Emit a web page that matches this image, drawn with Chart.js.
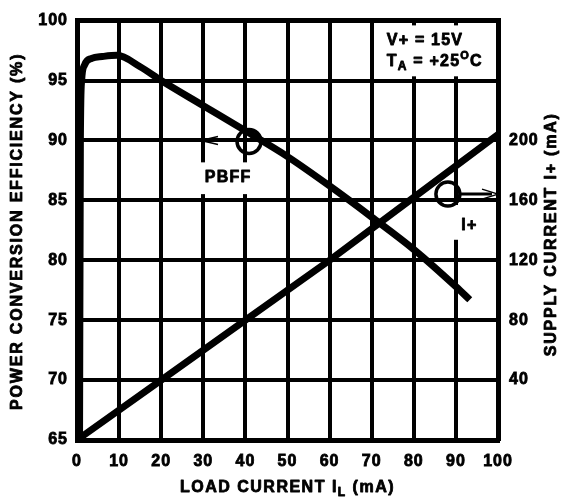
<!DOCTYPE html>
<html><head><meta charset="utf-8">
<script src="https://cdn.jsdelivr.net/npm/chart.js@4/dist/chart.umd.min.js"></script>
<style>html,body{margin:0;padding:0;background:#fff;}</style>
</head><body>
<canvas id="c" width="561" height="498"></canvas>
<script>
// ---- data ----
const loadCurrentEff = [0.6, 0.8, 1.1, 1.8, 3.5, 6, 9.5, 15, 20, 30, 40, 50, 60, 70, 80, 90, 93.3];
const efficiency     = [65, 90, 95, 96.3, 96.85, 97.0, 97.1, 96.15, 95.0, 92.9, 90.8, 88.65, 86.2, 83.6, 80.9, 77.8, 76.7];
const loadCurrentSup = [0, 20, 40, 60, 80, 100];
const supplyCurrent  = [0, 40, 80, 120, 162, 204];
const xTickValues    = [0, 10, 20, 30, 40, 50, 60, 70, 80, 90, 100];
const effTickValues  = [65, 70, 75, 80, 85, 90, 95, 100];
const supplyTickVals = [40, 80, 120, 160, 200];

const FAM = "Arial, 'Liberation Sans', Helvetica, sans-serif";
Chart.defaults.font.family = FAM;
Chart.defaults.color = '#000';

function runs(ctx, parts, x, y, align) {
  let total = 0;
  parts.forEach(p => { ctx.font = '700 ' + p[1] + 'px ' + FAM; p.w = ctx.measureText(p[0]).width; total += p.w; });
  let cx = align === 'center' ? x - total / 2 : x;
  ctx.textAlign = 'left'; ctx.textBaseline = 'alphabetic';
  ctx.strokeStyle = '#000'; ctx.lineWidth = 0.8; ctx.lineJoin = 'round';
  parts.forEach(p => {
    ctx.font = '700 ' + p[1] + 'px ' + FAM;
    ctx.fillText(p[0], cx, y + p[2]);
    ctx.strokeText(p[0], cx, y + p[2]);
    cx += p.w;
  });
}

const deco = {
  id: 'deco',
  beforeDraw(chart) { chart.ctx.letterSpacing = '1px'; },
  beforeDatasetsDraw(chart) {
    const {ctx, scales: {x, y}} = chart;
    ctx.save();
    ctx.fillStyle = '#fff';
    const box = (x0, x1, y0, y1) => {
      const a = x.getPixelForValue(x0), b = x.getPixelForValue(x1);
      const c = y.getPixelForValue(y0), d = y.getPixelForValue(y1);
      ctx.fillRect(a, c, b - a, d - c);
    };
    box(72.0, 98.9, 99.6, 95.35);
    box(29.2, 42.3, 88.17, 85.52);
    box(89.1, 96.9, 84.61, 81.71);
    ctx.restore();
  },
  afterDatasetsDraw(chart) {
    const {ctx, scales: {x, y}} = chart;
    ctx.save();
    ctx.strokeStyle = '#000'; ctx.fillStyle = '#000';
    ctx.letterSpacing = '1.2px';
    // PBFF marker
    let cx = x.getPixelForValue(40.86), cy = y.getPixelForValue(89.91);
    ctx.lineWidth = 3.5;
    ctx.beginPath(); ctx.arc(cx, cy, 12, 0, Math.PI * 2); ctx.stroke();
    let tip = x.getPixelForValue(29.45), ay = y.getPixelForValue(90);
    ctx.lineWidth = 1.5;
    ctx.beginPath(); ctx.moveTo(cx - 12, ay); ctx.lineTo(tip, ay); ctx.stroke();
    ctx.beginPath(); ctx.moveTo(tip + 17, ay - 4); ctx.lineTo(tip, ay); ctx.lineTo(tip + 17, ay + 4); ctx.stroke();
    runs(ctx, [['PBFF', 16, 0]], x.getPixelForValue(35.9), y.getPixelForValue(86.51), 'center');
    // I+ marker
    cx = x.getPixelForValue(88.1); cy = y.getPixelForValue(85.52);
    ctx.strokeStyle = '#000';
    ctx.lineWidth = 3.5;
    ctx.beginPath(); ctx.arc(cx, cy, 12, 0, Math.PI * 2); ctx.stroke();
    tip = x.getPixelForValue(100);
    ctx.lineWidth = 3;
    ctx.beginPath(); ctx.moveTo(cx + 12, cy); ctx.lineTo(tip - 6, cy); ctx.stroke();
    ctx.lineWidth = 1.5;
    ctx.beginPath(); ctx.moveTo(tip - 16, cy - 5); ctx.lineTo(tip, cy); ctx.lineTo(tip - 16, cy + 5); ctx.stroke();
    runs(ctx, [['I+', 16, 0]], x.getPixelForValue(93.2), y.getPixelForValue(82.54), 'center');
    // conditions
    const lx = x.getPixelForValue(73.6);
    runs(ctx, [['V+ = 15V', 16, 0]], lx, y.getPixelForValue(97.93), 'left');
    runs(ctx, [['T', 16, 0], ['A', 12, 4], [' = +25', 16, 0], ['O', 11, -7], ['C', 16, 0]], lx, y.getPixelForValue(96.19), 'left');
    ctx.restore();
  },
  afterDraw(chart) {
    const {ctx, chartArea: ca} = chart;
    ctx.save();
    ctx.fillStyle = '#000';
    ctx.letterSpacing = '1.5px';
    runs(ctx, [['LOAD CURRENT I', 16, 0], ['L', 12, 4], [' (mA)', 16, 0]], (ca.left + ca.right) / 2, 492, 'center');
    ctx.letterSpacing = '1.8px';
    ctx.save(); ctx.translate(22, (ca.top + ca.bottom) / 2 + 1); ctx.rotate(-Math.PI / 2);
    runs(ctx, [['POWER CONVERSION EFFICIENCY (%)', 16, 0]], 0, 0, 'center'); ctx.restore();
    ctx.save(); ctx.translate(556, (ca.top + ca.bottom) / 2 + 4); ctx.rotate(-Math.PI / 2);
    runs(ctx, [['SUPPLY CURRENT I+ (mA)', 16, 0]], 0, 0, 'center'); ctx.restore();
    ctx.restore();
  }
};

const tickFont = { size: 16, weight: 700 };
const gridCommon = { color: '#000', drawTicks: false };
new Chart(document.getElementById('c'), {
  type: 'line',
  data: {
    datasets: [
      { label: 'PBFF', data: loadCurrentEff.map((v, i) => ({x: v, y: efficiency[i]})), yAxisID: 'y',
        borderColor: '#000', borderWidth: 7, pointRadius: 0, cubicInterpolationMode: 'monotone', clip: false, borderCapStyle: 'butt' },
      { label: 'I+', data: loadCurrentSup.map((v, i) => ({x: v, y: supplyCurrent[i]})), yAxisID: 'y2',
        borderColor: '#000', borderWidth: 7, pointRadius: 0, tension: 0, clip: false }
    ]
  },
  options: {
    responsive: false, animation: false, devicePixelRatio: 1,
    layout: { padding: { top: 17, left: 0, right: 0, bottom: 0 } },
    plugins: { legend: { display: false }, tooltip: { enabled: false } },
    scales: {
      x: { type: 'linear', min: 0, max: 100,
        afterBuildTicks: s => { s.ticks = xTickValues.map(v => ({value: v})); },
        ticks: { font: tickFont, color: '#000', padding: 12, maxRotation: 0, textStrokeColor: '#000', textStrokeWidth: 0.8 },
        grid: { ...gridCommon, lineWidth: 4 }, border: { display: true, color: '#000', width: 5 },
        afterFit: s => { s.height = 58; } },
      y: { position: 'left', min: 65, max: 100,
        afterBuildTicks: s => { s.ticks = effTickValues.map(v => ({value: v})); },
        ticks: { font: tickFont, color: '#000', padding: 9, textStrokeColor: '#000', textStrokeWidth: 0.8 },
        grid: { ...gridCommon, lineWidth: c => (c.tick && c.tick.value === 100) ? 5 : 4 },
        border: { display: true, color: '#000', width: 5 },
        afterFit: s => { s.width = 77; } },
      y2: { position: 'right', min: 0, max: 280,
        afterBuildTicks: s => { s.ticks = supplyTickVals.map(v => ({value: v})); },
        ticks: { font: tickFont, color: '#000', padding: 11, textStrokeColor: '#000', textStrokeWidth: 0.8 },
        grid: { drawOnChartArea: false, drawTicks: false },
        border: { display: true, color: '#000', width: 5 },
        afterFit: s => { s.width = 63; } }
    }
  },
  plugins: [deco]
});
</script>
</body></html>
